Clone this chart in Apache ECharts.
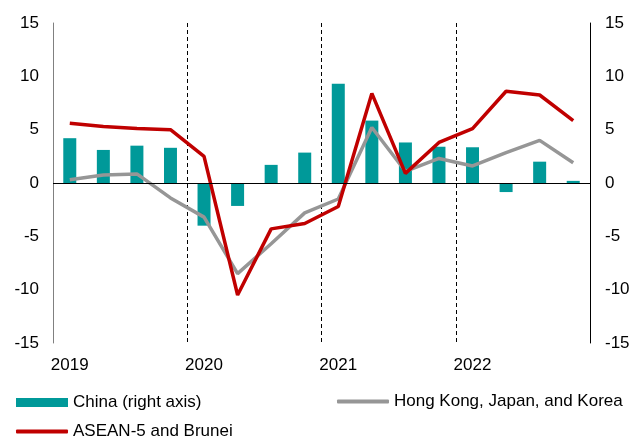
<!DOCTYPE html>
<html><head><meta charset="utf-8">
<script src="https://cdn.jsdelivr.net/npm/echarts@6/dist/echarts.min.js"></script>
<style>html,body{margin:0;padding:0;background:#fff}#c{width:633px;height:437px}</style>
</head><body><div id="c"></div>
<script>
const quarters = ['2019 Q1','2019 Q2','2019 Q3','2019 Q4','2020 Q1','2020 Q2','2020 Q3','2020 Q4','2021 Q1','2021 Q2','2021 Q3','2021 Q4','2022 Q1','2022 Q2','2022 Q3','2022 Q4'];
const china = [4.2, 3.1, 3.5, 3.3, -4.0, -2.15, 1.7, 2.85, 9.3, 5.85, 3.8, 3.4, 3.35, -0.85, 2.0, 0.2];
const hkJapanKorea = [0.3, 0.75, 0.85, -1.4, -3.2, -8.5, -5.7, -2.8, -1.5, 5.2, 1.1, 2.3, 1.6, 2.85, 4.0, 1.9];
const asean = [5.6, 5.3, 5.1, 5.0, 2.5, -10.5, -4.3, -3.8, -2.2, 8.4, 0.9, 3.8, 5.1, 8.6, 8.25, 5.85];
const yTicks = {min: -15, max: 15, interval: 5};

const FONT = '"Liberation Sans", Arial, sans-serif';
const legendText = {fontSize: 17, color: '#000', fontFamily: FONT, padding: [0, 0, 0, 0]};
const chart = echarts.init(document.getElementById('c'), null, {renderer: 'canvas'});
chart.setOption({
  animation: false,
  textStyle: {fontFamily: FONT},
  grid: {left: 53, right: 43, top: 23, bottom: 94},
  legend: [
    {
      left: 16, top: 394, itemWidth: 52, itemHeight: 9, padding: 0,
      textStyle: legendText,
      data: [{name: 'China (right axis)', icon: 'rect'}]
    },
    {
      left: 16, top: 423, itemWidth: 52, itemHeight: 4, padding: 0,
      textStyle: legendText,
      data: [{name: 'ASEAN-5 and Brunei', icon: 'roundRect'}]
    },
    {
      left: 337, top: 393, itemWidth: 52, itemHeight: 4, padding: 0,
      textStyle: legendText,
      data: [{name: 'Hong Kong, Japan, and Korea', icon: 'roundRect'}]
    }
  ],
  xAxis: {
    type: 'category', data: quarters, boundaryGap: true,
    axisLine: {show: false}, axisTick: {show: false},
    axisLabel: {
      interval: (i) => i % 4 === 0, margin: 14, fontSize: 17, color: '#000', fontFamily: FONT,
      formatter: (v) => v.split(' ')[0]
    },
    splitLine: {
      show: true, interval: (i) => i % 4 === 0 && i > 0 && i < 16,
      lineStyle: {color: '#000', type: [4, 3], width: 1}
    }
  },
  yAxis: [
    {
      type: 'value', min: yTicks.min, max: yTicks.max, interval: yTicks.interval,
      axisLine: {show: true, lineStyle: {color: '#808080', width: 1}}, axisTick: {show: false},
      splitLine: {show: false},
      axisLabel: {fontSize: 17, color: '#000', margin: 14, fontFamily: FONT}
    },
    {
      type: 'value', min: yTicks.min, max: yTicks.max, interval: yTicks.interval, position: 'right',
      axisLine: {show: true, lineStyle: {color: '#000', width: 1}}, axisTick: {show: false},
      splitLine: {show: false},
      axisLabel: {fontSize: 17, color: '#000', margin: 15, fontFamily: FONT}
    }
  ],
  series: [
    {
      name: 'China (right axis)', type: 'bar', yAxisIndex: 1, data: china, barWidth: 13,
      itemStyle: {color: '#009999'},
      markLine: {
        silent: true, symbol: 'none', label: {show: false},
        lineStyle: {color: '#000', type: 'solid', width: 1},
        data: [{yAxis: 0}]
      }
    },
    {
      name: 'Hong Kong, Japan, and Korea', type: 'line', yAxisIndex: 0, data: hkJapanKorea,
      symbol: 'none', lineStyle: {color: '#969696', width: 3.5}, itemStyle: {color: '#969696'}
    },
    {
      name: 'ASEAN-5 and Brunei', type: 'line', yAxisIndex: 0, data: asean,
      symbol: 'none', lineStyle: {color: '#C00000', width: 3.5}, itemStyle: {color: '#C00000'}
    }
  ]
});
</script></body></html>
